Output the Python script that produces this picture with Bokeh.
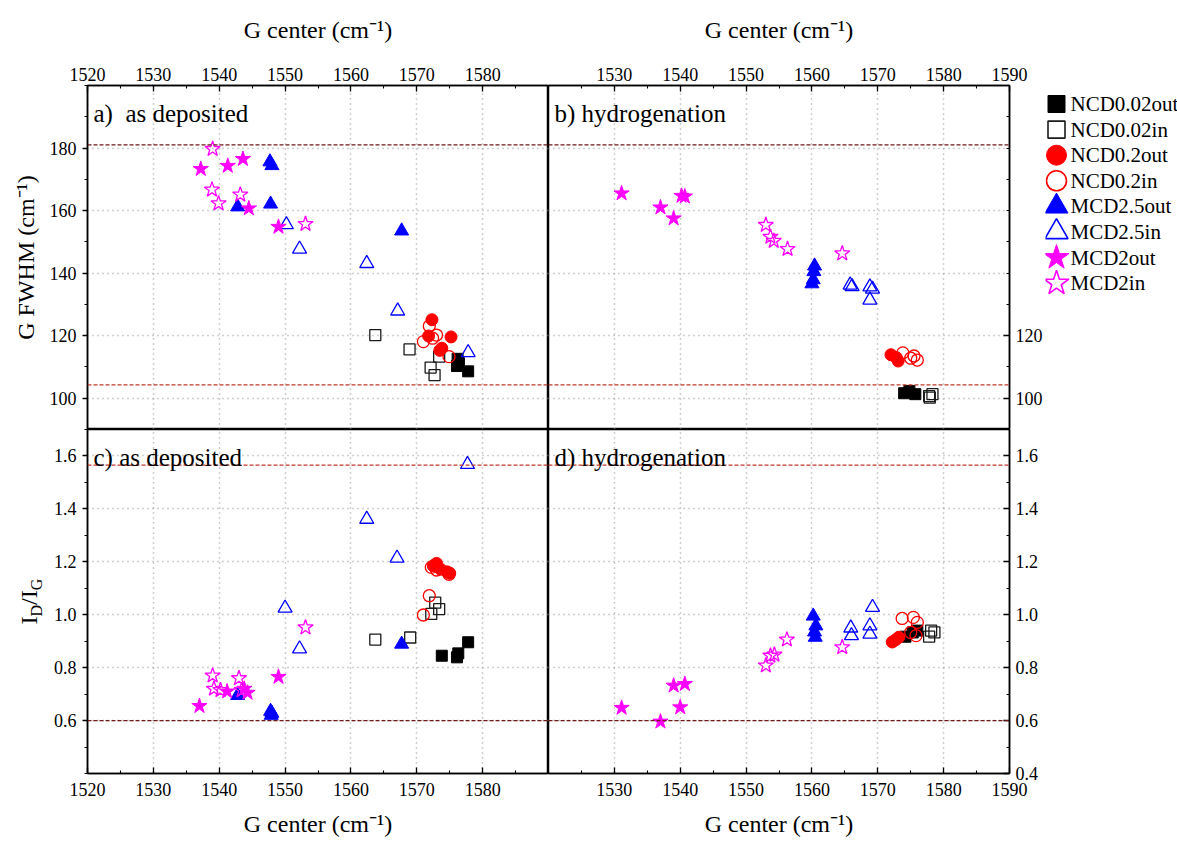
from math import pi

from bokeh.core.properties import value
from bokeh.embed import file_html
from bokeh.layouts import column, row
from bokeh.models import (FixedTicker, Grid, Label, LinearAxis,
                          PrintfTickFormatter, Range1d, Span)
from bokeh.plotting import figure
from bokeh.resources import INLINE

SERIF = "Liberation Serif"

SERIES = ["NCD0.02out", "NCD0.02in", "NCD0.2out", "NCD0.2in",
          "MCD2.5out", "MCD2.5in", "MCD2out", "MCD2in"]

# x ticks (G center, cm-1) and y ticks of each panel row
X_TICKS = [1520, 1530, 1540, 1550, 1560, 1570, 1580, 1590]
X_LEFT_LABELS = [1520, 1530, 1540, 1550, 1560, 1570, 1580]
X_RIGHT_LABELS = [1530, 1540, 1550, 1560, 1570, 1580, 1590]
X_MINOR = [1520 + 5 * i for i in range(15)]
FWHM_TICKS = [100, 120, 140, 160, 180]
FWHM_RIGHT_LABELS = [100, 120]
FWHM_MINOR = [90, 100, 110, 120, 130, 140, 150, 160, 170, 180, 190, 200]
RATIO_TICKS = [0.4, 0.6, 0.8, 1.0, 1.2, 1.4, 1.6]
RATIO_LEFT_LABELS = [0.6, 0.8, 1.0, 1.2, 1.4, 1.6]
RATIO_MINOR = [0.4, 0.5, 0.6, 0.7, 0.8, 0.9, 1.0, 1.1, 1.2, 1.3, 1.4, 1.5, 1.6, 1.7]

# horizontal reference levels (upper, lower)
FWHM_LEVELS = [181.0, 104.3]
RATIO_LEVELS = [1.565, 0.60]

# ---- a) G FWHM, as deposited ----
a_ncd002out_x = [1576.2, 1576.4, 1576.1, 1577.8]
a_ncd002out_y = [112.6, 111.2, 110.3, 108.6]
a_ncd002in_x = [1563.7, 1568.9, 1573.4, 1572.1, 1572.7]
a_ncd002in_y = [120.2, 115.6, 113.3, 109.8, 107.4]
a_ncd02out_x = [1572.3, 1571.8, 1575.2, 1573.8, 1573.5]
a_ncd02out_y = [125.1, 119.9, 119.6, 116.0, 115.3]
a_ncd02in_x = [1571.9, 1573.0, 1572.4, 1571.0, 1574.9]
a_ncd02in_y = [123.1, 120.2, 119.2, 118.1, 113.3]
a_mcd25out_x = [1547.7, 1548.0, 1542.8, 1547.8, 1567.7]
a_mcd25out_y = [175.6, 174.4, 161.2, 162.1, 153.5]
a_mcd25in_x = [1550.2, 1552.2, 1562.4, 1567.1, 1577.8]
a_mcd25in_y = [155.5, 147.7, 143.1, 127.9, 114.6]
a_mcd2out_x = [1537.2, 1541.3, 1543.6, 1544.5, 1549.0]
a_mcd2out_y = [173.3, 174.3, 176.5, 160.7, 154.8]
a_mcd2in_x = [1539.0, 1538.9, 1539.9, 1543.2, 1553.1]
a_mcd2in_y = [179.7, 166.7, 162.3, 165.1, 155.7]

# ---- b) G FWHM, hydrogenation ----
b_ncd002out_x = [1574.0, 1574.8, 1575.7]
b_ncd002out_y = [101.6, 102.3, 101.3]
b_ncd002in_x = [1577.8, 1578.3, 1577.9]
b_ncd002in_y = [100.7, 101.3, 100.2]
b_ncd02out_x = [1572.0, 1572.8, 1573.1]
b_ncd02out_y = [113.9, 113.0, 111.9]
b_ncd02in_x = [1573.8, 1575.5, 1576.0, 1575.0]
b_ncd02in_y = [114.5, 113.5, 112.2, 112.8]
b_mcd25out_x = [1560.4, 1560.3, 1560.2, 1560.0]
b_mcd25out_y = [142.3, 140.5, 137.9, 136.6]
b_mcd25in_x = [1565.8, 1566.1, 1568.8, 1569.2, 1568.8]
b_mcd25in_y = [136.2, 135.7, 135.6, 134.9, 131.4]
b_mcd2out_x = [1531.1, 1537.0, 1540.2, 1540.7, 1539.0]
b_mcd2out_y = [165.5, 161.0, 164.7, 164.5, 157.5]
b_mcd2in_x = [1553.0, 1553.7, 1554.2, 1556.3, 1564.6]
b_mcd2in_y = [155.4, 151.6, 150.3, 147.7, 146.3]

# ---- c) ID/IG, as deposited ----
c_ncd002out_x = [1573.8, 1576.3, 1576.1, 1577.8]
c_ncd002out_y = [0.845, 0.854, 0.839, 0.896]
c_ncd002in_x = [1563.7, 1569.0, 1572.8, 1573.4, 1572.2]
c_ncd002in_y = [0.906, 0.914, 1.046, 1.021, 1.003]
c_ncd02out_x = [1572.5, 1573.0, 1573.6, 1575.0, 1574.6]
c_ncd02out_y = [1.185, 1.194, 1.172, 1.157, 1.162]
c_ncd02in_x = [1572.2, 1573.0, 1574.9, 1571.9, 1571.0]
c_ncd02in_y = [1.179, 1.169, 1.153, 1.072, 0.999]
c_mcd25out_x = [1567.7, 1542.8, 1547.8, 1547.9, 1548.0]
c_mcd25out_y = [0.889, 0.695, 0.635, 0.620, 0.628]
c_mcd25in_x = [1562.4, 1550.0, 1552.2, 1567.0, 1577.7]
c_mcd25in_y = [1.361, 1.025, 0.871, 1.214, 1.568]
c_mcd2out_x = [1537.0, 1541.2, 1544.3, 1549.0, 1543.8]
c_mcd2out_y = [0.655, 0.710, 0.705, 0.765, 0.720]
c_mcd2in_x = [1539.0, 1539.2, 1540.2, 1543.0, 1543.4, 1553.1]
c_mcd2in_y = [0.770, 0.720, 0.715, 0.760, 0.715, 0.952]

# ---- d) ID/IG, hydrogenation ----
d_ncd002out_x = [1574.2, 1575.3, 1576.0]
d_ncd002out_y = [0.917, 0.933, 0.940]
d_ncd002in_x = [1577.8, 1578.6, 1578.1]
d_ncd002in_y = [0.917, 0.933, 0.940]
d_ncd02out_x = [1572.2, 1572.7, 1573.2]
d_ncd02out_y = [0.897, 0.905, 0.915]
d_ncd02in_x = [1573.7, 1575.4, 1576.0, 1575.0, 1575.8]
d_ncd02in_y = [0.986, 0.990, 0.971, 0.933, 0.921]
d_mcd25out_x = [1560.2, 1560.6, 1560.4, 1560.5]
d_mcd25out_y = [0.995, 0.958, 0.935, 0.915]
d_mcd25in_x = [1565.9, 1566.0, 1569.2, 1568.8, 1568.8]
d_mcd25in_y = [0.950, 0.921, 1.028, 0.958, 0.927]
d_mcd2out_x = [1531.1, 1537.0, 1539.0, 1540.7, 1540.0]
d_mcd2out_y = [0.648, 0.596, 0.732, 0.738, 0.650]
d_mcd2in_x = [1553.0, 1553.7, 1554.3, 1556.2, 1564.6]
d_mcd2in_y = [0.808, 0.845, 0.849, 0.906, 0.877]

PANEL_A = [(a_ncd002out_x, a_ncd002out_y), (a_ncd002in_x, a_ncd002in_y),
           (a_ncd02out_x, a_ncd02out_y), (a_ncd02in_x, a_ncd02in_y),
           (a_mcd25out_x, a_mcd25out_y), (a_mcd25in_x, a_mcd25in_y),
           (a_mcd2out_x, a_mcd2out_y), (a_mcd2in_x, a_mcd2in_y)]
PANEL_B = [(b_ncd002out_x, b_ncd002out_y), (b_ncd002in_x, b_ncd002in_y),
           (b_ncd02out_x, b_ncd02out_y), (b_ncd02in_x, b_ncd02in_y),
           (b_mcd25out_x, b_mcd25out_y), (b_mcd25in_x, b_mcd25in_y),
           (b_mcd2out_x, b_mcd2out_y), (b_mcd2in_x, b_mcd2in_y)]
PANEL_C = [(c_ncd002out_x, c_ncd002out_y), (c_ncd002in_x, c_ncd002in_y),
           (c_ncd02out_x, c_ncd02out_y), (c_ncd02in_x, c_ncd02in_y),
           (c_mcd25out_x, c_mcd25out_y), (c_mcd25in_x, c_mcd25in_y),
           (c_mcd2out_x, c_mcd2out_y), (c_mcd2in_x, c_mcd2in_y)]
PANEL_D = [(d_ncd002out_x, d_ncd002out_y), (d_ncd002in_x, d_ncd002in_y),
           (d_ncd02out_x, d_ncd02out_y), (d_ncd02in_x, d_ncd02in_y),
           (d_mcd25out_x, d_mcd25out_y), (d_mcd25in_x, d_mcd25in_y),
           (d_mcd2out_x, d_mcd2out_y), (d_mcd2in_x, d_mcd2in_y)]

# marker, colour, filled, size in panels, size in legend
STYLE = {
    "NCD0.02out": ("square", "#000000", True, 11, 17),
    "NCD0.02in": ("square", "#1a1a1a", False, 11, 17),
    "NCD0.2out": ("circle", "#ff0000", True, 12, 20),
    "NCD0.2in": ("circle", "#ff0000", False, 12, 20),
    "MCD2.5out": ("triangle", "#0000ff", True, 14, 23),
    "MCD2.5in": ("triangle", "#0000ff", False, 14, 23),
    "MCD2out": ("star", "#ff00ff", True, 16, 26),
    "MCD2in": ("star", "#ff00ff", False, 16, 26),
}

FRAME_W, FRAME_H = 461, 344
LEFT_W, TOP_H, BOTTOM_H, RIGHT_W = 87, 85, 73, 34
TITLE_W = 48                      # strip holding the rotated I_D/I_G title
LEGEND_W = 1177 - LEFT_W - 2 * FRAME_W - RIGHT_W
TITLE = "G center (cm\u207b\u00b9)"


def hide_default_grids(p):
    for g in list(p.xgrid) + list(p.ygrid):
        g.visible = False


def make_figure(y_lo, y_hi):
    p = figure(frame_width=FRAME_W, frame_height=FRAME_H,
               x_range=Range1d(1520, 1590), y_range=Range1d(y_lo, y_hi),
               x_axis_location=None, y_axis_location=None,
               output_backend="svg", toolbar_location=None,
               min_border=0, outline_line_color="black",
               outline_line_width=1.5, background_fill_color="white")
    hide_default_grids(p)
    return p


def plain_figure(w, h, x_range, y_range):
    p = figure(width=w, height=h, x_range=x_range, y_range=y_range,
               x_axis_location=None, y_axis_location=None,
               output_backend="svg", toolbar_location=None, min_border=0,
               outline_line_color=None, background_fill_color="white")
    hide_default_grids(p)
    return p


def add_axis(p, side, ticks, minor, title=None, outward=False, fmt=None,
             label_standoff=9, title_standoff=10):
    ax = LinearAxis(ticker=FixedTicker(ticks=ticks, minor_ticks=minor))
    ax.axis_line_color = "black"
    ax.axis_line_width = 1.5
    ax.major_tick_line_color = "black"
    ax.minor_tick_line_color = "black"
    ax.major_tick_line_width = 1.3
    ax.minor_tick_line_width = 1.1
    if outward:
        ax.major_tick_out, ax.major_tick_in = 5, 0
        ax.minor_tick_out, ax.minor_tick_in = 3, 0
    else:
        ax.major_tick_out, ax.major_tick_in = 0, 6
        ax.minor_tick_out, ax.minor_tick_in = 0, 3
    ax.major_label_text_font = SERIF
    ax.major_label_text_font_size = "18px"
    ax.major_label_text_color = "black"
    ax.major_label_standoff = label_standoff
    if fmt:
        ax.formatter = PrintfTickFormatter(format=fmt)
    if title:
        ax.axis_label = title
        ax.axis_label_text_font = SERIF
        ax.axis_label_text_font_size = "24px"
        ax.axis_label_text_font_style = "normal"
        ax.axis_label_text_color = "black"
        ax.axis_label_standoff = title_standoff
    p.add_layout(ax, side)
    return ax


def add_grid(p, yticks):
    for dim, ticks in ((0, X_TICKS), (1, yticks)):
        p.add_layout(Grid(dimension=dim, ticker=FixedTicker(ticks=ticks),
                          grid_line_color="#a0a0a0", grid_line_dash="1 4",
                          grid_line_width=1.5))


def add_levels(p, levels, colours):
    for lvl, col in zip(levels, colours):
        p.add_layout(Span(location=lvl, dimension="width", line_color=col,
                          line_dash="4 2", line_width=1.2))


def add_points(p, panel):
    for name, (xs, ys) in zip(SERIES, panel):
        marker, col, filled, size, _ = STYLE[name]
        p.scatter(xs, ys, marker=marker, size=size, line_color=col,
                  fill_color=col, fill_alpha=1.0 if filled else 0.0,
                  line_width=1.0 if filled else 1.3)


def panel_tag(p, text):
    p.add_layout(Label(x=6, y=FRAME_H - 28, x_units="screen", y_units="screen",
                       text=text, text_font=SERIF, text_font_size="25px",
                       text_color="black", text_baseline="alphabetic"))


DARK, RED = "#6e1818", "#c0392b"

# a) top left
pa = make_figure(90, 200)
pa.min_border_left = LEFT_W
pa.min_border_top = TOP_H
add_grid(pa, FWHM_TICKS)
add_levels(pa, FWHM_LEVELS, (DARK, RED))
add_points(pa, PANEL_A)
add_axis(pa, "above", X_LEFT_LABELS, X_MINOR, title=TITLE, label_standoff=5,
         title_standoff=22)
add_axis(pa, "left", FWHM_TICKS, FWHM_MINOR, title="G FWHM (cm\u207b\u00b9)",
         outward=True, label_standoff=6, title_standoff=8)
panel_tag(pa, "a)\u00a0 as deposited")

# b) top right
pb = make_figure(90, 200)
pb.min_border_top = TOP_H
pb.min_border_right = RIGHT_W
add_grid(pb, FWHM_TICKS)
add_levels(pb, FWHM_LEVELS, (DARK, RED))
add_points(pb, PANEL_B)
add_axis(pb, "above", X_RIGHT_LABELS, X_MINOR, title=TITLE, label_standoff=5,
         title_standoff=22)
add_axis(pb, "right", FWHM_RIGHT_LABELS, FWHM_MINOR, label_standoff=6)
panel_tag(pb, "b) hydrogenation")

# legend column; its frame lines up with panel b, y runs top-down in pixels
top_h = TOP_H + FRAME_H
pleg = plain_figure(LEGEND_W, top_h, Range1d(0, LEGEND_W), Range1d(top_h, TOP_H))
pleg.min_border_top = TOP_H
row_pitch, first_row = 25.6, 103.5
for i, name in enumerate(SERIES):
    marker, col, filled, _, lsize = STYLE[name]
    ry = first_row + i * row_pitch
    pleg.scatter([11], [ry], marker=marker, size=lsize, line_color=col,
                 fill_color=col, fill_alpha=1.0 if filled else 0.0,
                 line_width=1.0 if filled else 1.6)
    pleg.text([25], [ry], text=[name], text_font=value(SERIF),
              text_font_size="21px", text_color="black",
              text_align="left", text_baseline="middle")

# c) bottom left
pc = make_figure(0.4, 1.7)
pc.min_border_left = LEFT_W - TITLE_W
pc.min_border_bottom = BOTTOM_H
add_grid(pc, RATIO_TICKS)
add_levels(pc, RATIO_LEVELS, (RED, DARK))
add_points(pc, PANEL_C)
add_axis(pc, "below", X_LEFT_LABELS, X_MINOR, title=TITLE, label_standoff=9,
         title_standoff=12)
add_axis(pc, "left", RATIO_LEFT_LABELS, RATIO_MINOR, outward=True, fmt="%.1f",
         label_standoff=6)
panel_tag(pc, "c) as deposited")

# rotated title I_D/I_G beside panel c: main letters and subscripts
bot_h = BOTTOM_H + FRAME_H
ptitle = plain_figure(TITLE_W, bot_h, Range1d(0, TITLE_W), Range1d(0, FRAME_H))
ptitle.min_border_bottom = BOTTOM_H
mid = FRAME_H / 2
main_parts, main_dy = ["I", "/I"], [-23.0, -3.4]
sub_parts, sub_dy = ["D", "G"], [-15.0, 11.3]
ptitle.text([28, 28], [mid + d for d in main_dy], text=main_parts, angle=pi / 2,
            text_font=value(SERIF), text_font_size="24px", text_color="black",
            text_align="left", text_baseline="middle")
ptitle.text([36, 36], [mid + d for d in sub_dy], text=sub_parts, angle=pi / 2,
            text_font=value(SERIF), text_font_size="16px", text_color="black",
            text_align="left", text_baseline="middle")

# d) bottom right
pd_ = make_figure(0.4, 1.7)
pd_.min_border_right = RIGHT_W + LEGEND_W
pd_.min_border_bottom = BOTTOM_H
add_grid(pd_, RATIO_TICKS)
add_levels(pd_, RATIO_LEVELS, (RED, DARK))
add_points(pd_, PANEL_D)
add_axis(pd_, "below", X_RIGHT_LABELS, X_MINOR, title=TITLE, label_standoff=9,
         title_standoff=12)
add_axis(pd_, "right", RATIO_TICKS, RATIO_MINOR, fmt="%.1f", label_standoff=6)
panel_tag(pd_, "d) hydrogenation")

layout = column(row(pa, pb, pleg), row(ptitle, pc, pd_))

with open("out.html", "w") as f:
    f.write(file_html(layout, INLINE))
